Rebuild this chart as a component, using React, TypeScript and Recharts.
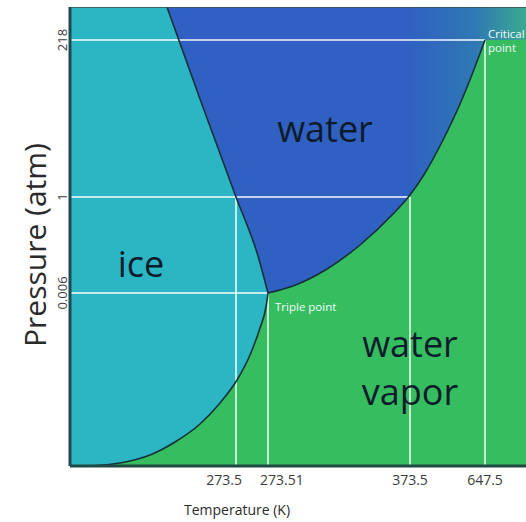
import React from 'react';
import { ComposedChart, Area, Line, XAxis, YAxis, CartesianGrid, Scatter } from 'recharts';

// Schematic phase-diagram coordinates (x: temperature position, y: pressure position)
const xTickValues = [166, 198, 340, 415];
const xTickLabels = ['273.5', '273.51', '373.5', '647.5'];
const yTickValues = [173, 269, 426];
const yTickLabels = ['0.006', '1', '218'];

// Solid / gas boundary (sublimation curve)
const sublimationCurve = [
  { x: 20, y: 0 },
  { x: 50, y: 3 },
  { x: 80, y: 11 },
  { x: 105, y: 24 },
  { x: 130, y: 42 },
  { x: 150, y: 63 },
  { x: 167, y: 86 },
  { x: 180, y: 111 },
  { x: 190, y: 138 },
  { x: 196, y: 159 },
  { x: 198, y: 173 },
];

// Solid / liquid boundary (melting curve)
const meltingCurve = [
  { x: 97, y: 459 },
  { x: 130, y: 367 },
  { x: 166, y: 269 },
  { x: 188, y: 210 },
  { x: 198, y: 173 },
];

// Liquid / gas boundary (vaporization curve) from triple point to critical point
const vaporizationCurve = [
  { x: 198, y: 173 },
  { x: 223, y: 180 },
  { x: 257, y: 197 },
  { x: 290, y: 221 },
  { x: 323, y: 252 },
  { x: 340, y: 271 },
  { x: 355, y: 293 },
  { x: 373, y: 326 },
  { x: 390, y: 362 },
  { x: 403, y: 394 },
  { x: 415, y: 426 },
];

// Beyond the critical point
const supercriticalEdge = [
  { x: 415, y: 426 },
  { x: 456, y: 426 },
];

// Triple point, normal melting point, normal boiling point, critical point
const keyPoints = [
  { x: 198, y: 173 },
  { x: 166, y: 269 },
  { x: 340, y: 269 },
  { x: 415, y: 426 },
];

const regionLabels = [
  { x: 255, y: 324, text: 'water' },
  { x: 71, y: 189, text: 'ice' },
  { x: 340, y: 109, text: 'water' },
  { x: 340, y: 61, text: 'vapor' },
];
const pointLabels = [
  { x: 205, y: 155, text: 'Triple point' },
  { x: 418, y: 428, text: 'Critical' },
  { x: 418, y: 414, text: 'point' },
];

const X_MAX = 456;
const Y_MAX = 459;

const ICE = '#2cb6c4';
const WATER = '#3061c2';
const VAPOR = '#36bd5f';
const FONT = '"Open Sans", "Liberation Sans", sans-serif';

const horizontalGuides = yTickValues.map((yv) => {
  const xs = keyPoints.filter((p) => p.y === yv).map((p) => p.x);
  const xEnd = Math.max(...xs);
  return [
    { x: 0, y: yv },
    { x: xEnd, y: yv },
  ];
});
const verticalGuides = xTickValues.map((xv) => {
  const ys = keyPoints.filter((p) => p.x === xv).map((p) => p.y);
  const yEnd = Math.max(...ys);
  return [
    { x: xv, y: 0 },
    { x: xv, y: yEnd },
  ];
});

const XTick = (props: any) => {
  const { x, y, payload } = props;
  const i = xTickValues.indexOf(payload.value);
  const anchor = i === 0 ? 'end' : i === 1 ? 'start' : 'middle';
  const dx = i === 0 ? 6 : i === 1 ? -8 : 0;
  return (
    <text x={x + dx} y={y + 11} textAnchor={anchor} fontSize={14} fill="#3a3a3a" fontFamily={FONT}>
      {xTickLabels[i]}
    </text>
  );
};

const YTick = (props: any) => {
  const { x, y, payload } = props;
  const i = yTickValues.indexOf(payload.value);
  const bx = x + 5;
  return (
    <text
      x={bx}
      y={y}
      transform={`rotate(-90 ${bx} ${y})`}
      textAnchor="middle"
      fontSize={13}
      fill="#3a3a3a"
      fontFamily={FONT}
    >
      {yTickLabels[i]}
    </text>
  );
};

const RegionText = (props: any) => {
  const { cx, cy, payload } = props;
  return (
    <text x={cx} y={cy} textAnchor="middle" fontSize={36} fill="#0d1c2c" fontFamily={FONT}>
      {payload.text}
    </text>
  );
};

const PointText = (props: any) => {
  const { cx, cy, payload } = props;
  return (
    <text x={cx} y={cy} textAnchor="start" fontSize={11.5} fill="#f4fbff" fontFamily={FONT}>
      {payload.text}
    </text>
  );
};

export default function App() {
  return (
    <div style={{ position: 'absolute', left: 0, top: 0, width: 526, height: 522, background: '#fff' }}>
      <ComposedChart width={526} height={522} margin={{ top: 7, right: 0, bottom: 0, left: 0 }}>
        <defs>
          <linearGradient id="waterGrad" gradientUnits="userSpaceOnUse" x1="410" y1="0" x2="526" y2="0">
            <stop offset="0%" stopColor={WATER} />
            <stop offset="55%" stopColor="#2f78b4" />
            <stop offset="100%" stopColor="#3aa98e" />
          </linearGradient>
        </defs>
        <CartesianGrid horizontal={false} vertical={false} fill={ICE} fillOpacity={1} />
        <XAxis
          type="number"
          dataKey="x"
          domain={[0, X_MAX]}
          allowDataOverflow
          ticks={xTickValues}
          tick={<XTick />}
          tickLine={false}
          axisLine={{ stroke: '#1f4a44', strokeWidth: 3 }}
          height={56}
          interval={0}
          label={{
            content: () => (
              <text x={237} y={515} textAnchor="middle" fontSize={14} fill="#2a2a2a" fontFamily={FONT}>
                Temperature (K)
              </text>
            ),
          }}
        />
        <YAxis
          type="number"
          dataKey="y"
          domain={[0, Y_MAX]}
          allowDataOverflow
          ticks={yTickValues}
          tick={<YTick />}
          tickLine={false}
          axisLine={{ stroke: '#1f4a50', strokeWidth: 3 }}
          width={70}
          interval={0}
          label={{
            content: () => (
              <text
                x={46}
                y={245}
                transform="rotate(-90 46 245)"
                textAnchor="middle"
                fontSize={30}
                fill="#2a2a2a"
                fontFamily={FONT}
              >
                Pressure (atm)
              </text>
            ),
          }}
        />

        <Area data={meltingCurve} dataKey="y" type="monotone" baseValue="dataMax" fill={WATER} fillOpacity={1} stroke="none" isAnimationActive={false} />
        <Area data={vaporizationCurve} dataKey="y" type="monotone" baseValue="dataMax" fill="url(#waterGrad)" fillOpacity={1} stroke="none" isAnimationActive={false} />
        <Area data={supercriticalEdge} dataKey="y" type="linear" baseValue="dataMax" fill="url(#waterGrad)" fillOpacity={1} stroke="none" isAnimationActive={false} />
        <Area data={sublimationCurve} dataKey="y" type="monotone" baseValue={0} fill={VAPOR} fillOpacity={1} stroke="none" isAnimationActive={false} />
        <Area data={vaporizationCurve} dataKey="y" type="monotone" baseValue={0} fill={VAPOR} fillOpacity={1} stroke="none" isAnimationActive={false} />
        <Area data={supercriticalEdge} dataKey="y" type="linear" baseValue={0} fill={VAPOR} fillOpacity={1} stroke="none" isAnimationActive={false} />

        {horizontalGuides.map((seg, i) => (
          <Line key={`h${i}`} data={seg} dataKey="y" type="linear" stroke="#ffffff" strokeOpacity={0.72} strokeWidth={2} dot={false} activeDot={false} isAnimationActive={false} />
        ))}
        {verticalGuides.map((seg, i) => (
          <Line key={`v${i}`} data={seg} dataKey="y" type="linear" stroke="#ffffff" strokeOpacity={0.72} strokeWidth={2} dot={false} activeDot={false} isAnimationActive={false} />
        ))}

        <Line data={sublimationCurve} dataKey="y" type="monotone" stroke="#14303a" strokeWidth={1.6} dot={false} activeDot={false} isAnimationActive={false} />
        <Line data={meltingCurve} dataKey="y" type="monotone" stroke="#14303a" strokeWidth={1.6} dot={false} activeDot={false} isAnimationActive={false} />
        <Line data={vaporizationCurve} dataKey="y" type="monotone" stroke="#14303a" strokeWidth={1.6} dot={false} activeDot={false} isAnimationActive={false} />
        <Line data={[{ x: 0, y: Y_MAX }, { x: X_MAX, y: Y_MAX }]} dataKey="y" type="linear" stroke="#3c4c50" strokeWidth={1.5} dot={false} activeDot={false} isAnimationActive={false} />

        <Scatter data={regionLabels} dataKey="y" shape={<RegionText />} isAnimationActive={false} />
        <Scatter data={pointLabels} dataKey="y" shape={<PointText />} isAnimationActive={false} />
      </ComposedChart>
    </div>
  );
}
